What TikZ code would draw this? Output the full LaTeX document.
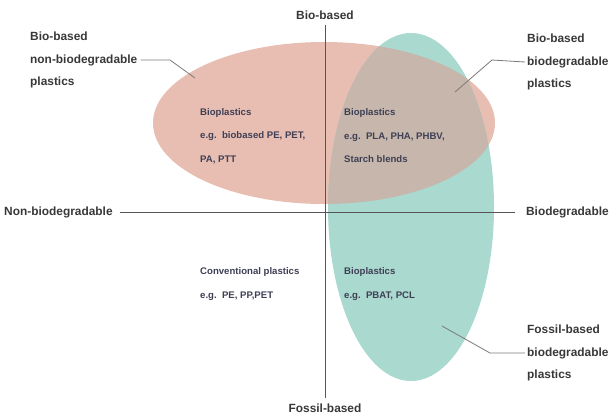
\documentclass[tikz,border=0pt]{standalone}
\usepackage{fontspec}
\setmainfont{Liberation Sans}
\definecolor{pinkfill}{HTML}{E9BEB2}
\definecolor{tealfill}{HTML}{AAD9CF}
\definecolor{overlapfill}{HTML}{C6B6AB}
\definecolor{outertext}{HTML}{383838}
\definecolor{innertext}{HTML}{3E3F55}
\definecolor{axiscol}{HTML}{555555}
\definecolor{leadcol}{HTML}{7A7A7A}
\tikzset{
  outerlbl/.style={font=\bfseries\fontsize{11.9}{22.5}\selectfont, text=outertext, inner sep=0pt, align=left},
  innerlbl/.style={font=\bfseries\fontsize{9.6}{23.5}\selectfont, text=innertext, inner sep=0pt, align=left, anchor=west},
  axisline/.style={draw=axiscol, line width=0.7pt},
  leader/.style={draw=leadcol, line width=0.8pt},
}
\begin{document}
\begin{tikzpicture}[x=1pt,y=-1pt]
\useasboundingbox (0,0) rectangle (610,416);
% ellipses
\fill[pinkfill] (324,123) ellipse [x radius=171, y radius=81];
\fill[tealfill] (411,207) ellipse [x radius=83, y radius=174];
\begin{scope}
  \clip (324,123) ellipse [x radius=171, y radius=81];
  \fill[overlapfill] (411,207) ellipse [x radius=83, y radius=174];
\end{scope}
% axis labels
\node[outerlbl] (bb) at (325,15) {Bio-based};
\node[outerlbl] (fb) at (325,408) {Fossil-based};
\node[outerlbl, anchor=west] (nb) at (4,212) {Non-biodegradable};
\node[outerlbl, anchor=east] (bd) at (609,212) {Biodegradable};
% axes
\draw[axisline] ([yshift=-5pt]bb.south) -- ([yshift=5pt]fb.north);
\draw[axisline] ([xshift=7pt]nb.east) -- ([xshift=-11pt]bd.west);
% corner labels
\node[outerlbl, anchor=west] (bnb) at (30,60) {Bio-based\\non-biodegradable\\plastics};
\node[outerlbl, anchor=west] (bbd) at (527,62) {Bio-based\\biodegradable\\plastics};
\node[outerlbl, anchor=west] (fbd) at (527,353) {Fossil-based\\biodegradable\\plastics};
% leader lines
\coordinate (l1a) at (170,60);
\coordinate (l1b) at (195,78);
\coordinate (l2a) at (492,60);
\coordinate (l2b) at (455,92);
\coordinate (l3a) at (490,353);
\coordinate (l3b) at (442,326);
\draw[leader] ([xshift=3pt]bnb.east) -- (l1a) -- (l1b);
\draw[leader] ([xshift=-2pt]bbd.west) -- (l2a) -- (l2b);
\draw[leader] ([xshift=-2pt]fbd.west) -- (l3a) -- (l3b);
% inner texts
\node[innerlbl] (t1) at (200,136) {Bioplastics\\e.g.\ \ biobased PE, PET,\\PA, PTT};
\node[innerlbl] (t2) at (344,136) {Bioplastics\\e.g.\ \ PLA, PHA, PHBV,\\Starch blends};
\node[innerlbl] (t3) at (200,284) {Conventional plastics\\e.g.\ \ PE, PP,PET};
\node[innerlbl] (t4) at (344,284) {Bioplastics\\e.g.\ \ PBAT, PCL};
\end{tikzpicture}
\end{document}
